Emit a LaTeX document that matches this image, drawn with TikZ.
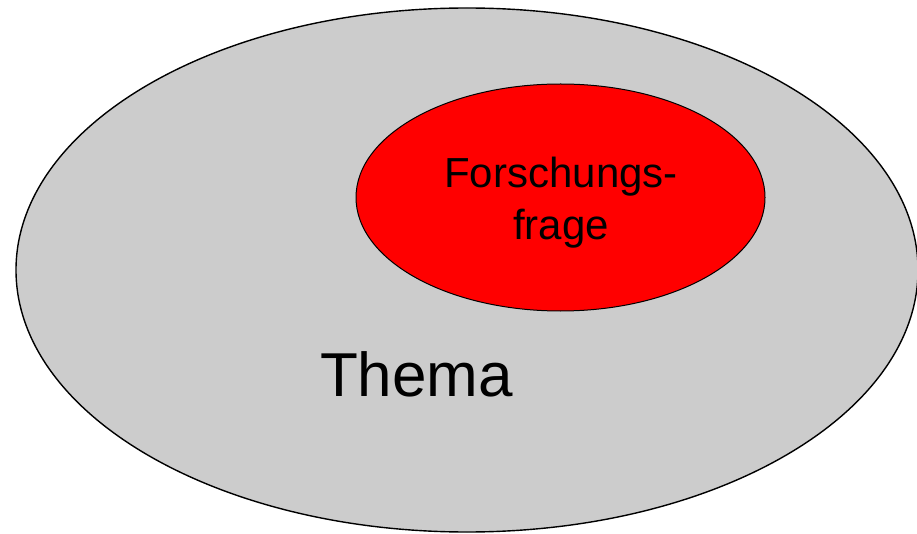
\documentclass[tikz,border=0pt]{standalone}
\usepackage{fontspec}
\setmainfont{Liberation Sans}
\usetikzlibrary{shapes.geometric}
\definecolor{themagray}{HTML}{CCCCCC}
\definecolor{fragered}{HTML}{FF0000}
\tikzset{
  blob/.style={ellipse, draw=black, inner sep=0pt, outer sep=0pt},
  label42/.style={font=\fontsize{42}{52}\selectfont, align=center, text=black},
  label60/.style={font=\fontsize{62}{72}\selectfont, text=black}
}
\begin{document}
\begin{tikzpicture}[x=1pt, y=-1pt]
  \useasboundingbox (0,0) rectangle (917,534);
  \clip (0,0) rectangle (917,534);
  % outer topic ellipse
  \node[blob, fill=themagray, line width=1.4pt, minimum width=902pt, minimum height=524pt] (thema) at (467,270) {};
  % inner research-question ellipse
  \node[blob, fill=fragered, line width=1pt, minimum width=409pt, minimum height=227pt] (frage) at (560.5,197.5) {};
  % two-line label: the base anchor sits on the last line
  \node[label42, anchor=base] (fragetext) at (561,240) {Forschungs-\\frage};
  \node[label60, anchor=base] (thematext) at (416.5,396) {Thema};
\end{tikzpicture}
\end{document}
